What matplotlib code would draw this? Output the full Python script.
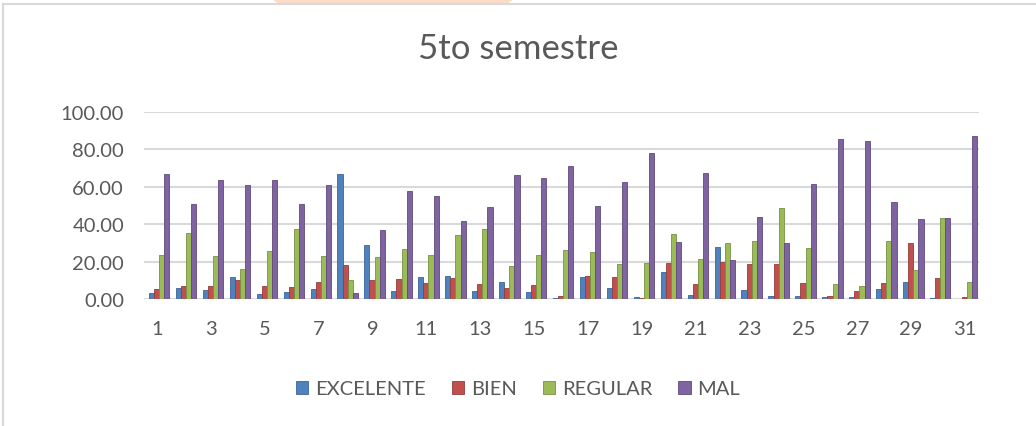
import numpy as np
import matplotlib
matplotlib.use("Agg")
import matplotlib.pyplot as plt
from matplotlib.patches import Rectangle, Polygon

categories = list(range(1, 32))
excelente = [3.2, 5.8, 5.0, 11.5, 2.7, 3.9, 5.1, 66.9, 28.8, 4.4,
             11.5, 12.4, 4.4, 9.2, 3.5, 0.4, 11.5, 5.8, 1.2, 14.3,
             2.1, 27.8, 4.8, 1.6, 1.6, 1.1, 1.1, 5.3, 8.9, 0.3, 0.2]
bien = [5.3, 6.7, 7.0, 10.1, 6.7, 6.2, 9.0, 18.0, 10.3, 10.6,
        8.8, 11.0, 7.8, 5.7, 7.4, 1.4, 12.2, 11.5, 0.4, 19.1,
        8.0, 19.8, 18.9, 18.8, 8.7, 1.8, 4.1, 8.3, 29.7, 11.4, 1.1]
regular = [23.5, 35.2, 23.2, 15.9, 25.7, 37.5, 23.2, 10.3, 22.7, 26.5,
           23.4, 34.2, 37.5, 17.7, 23.5, 26.2, 25.3, 18.8, 19.5, 35.0,
           21.4, 29.9, 31.0, 48.5, 27.1, 8.2, 7.1, 30.9, 15.3, 43.2, 9.1]
mal = [66.9, 51.0, 63.4, 61.0, 63.4, 51.0, 61.0, 3.4, 37.0, 57.5,
       55.2, 41.6, 49.2, 66.4, 64.6, 71.3, 49.9, 62.8, 77.9, 30.3,
       67.3, 21.1, 44.1, 29.9, 61.4, 85.8, 84.4, 52.0, 42.6, 43.2, 87.4]

series = [("EXCELENTE", excelente, "#4F81BD", "#3A6598"),
          ("BIEN", bien, "#C0504D", "#963C3A"),
          ("REGULAR", regular, "#9BBB59", "#769141"),
          ("MAL", mal, "#8064A2", "#5F4A7B")]

plt.rcParams['font.family'] = ['Lato', 'DejaVu Sans']
text_color = "#595959"

fig = plt.figure(figsize=(10.36, 4.27), dpi=100)

# faint background shapes at the very top and chart border
fig.patches.append(Polygon([[273/1036, 1], [513/1036, 1], [505/1036, 422/427], [280/1036, 422/427]],
                           closed=True, transform=fig.transFigure, color="#FADBC8", zorder=0))
fig.patches.append(Rectangle((3/1036, -0.01), 1.0, 422/427 + 0.01, transform=fig.transFigure,
                             fill=False, edgecolor="#D9D9D9", linewidth=1.5, zorder=1))

ax = fig.add_axes([143.5/1036, 127/427, 835/1036, 187/427])
x = np.arange(len(categories))
w = 0.19
for i, (name, vals, col, dark) in enumerate(series):
    off = (i - 1.5) * w + 0.08
    ax.bar(x + off, vals, width=w, color=col, edgecolor=dark, linewidth=0.6,
           label=name, zorder=3)

ax.set_xlim(-0.5, len(categories) - 0.5)
ax.set_ylim(0, 100)
ax.set_yticks(np.arange(0, 101, 20))
ax.set_yticklabels([f"{v:.2f}" for v in range(0, 101, 20)])
ax.set_xticks(x[::2])
ax.set_xticklabels([str(c) for c in categories[::2]])
ax.tick_params(length=0, labelsize=14.5, colors=text_color)
ax.tick_params(axis='y', pad=14)
ax.tick_params(axis='x', pad=15)
ax.grid(axis='y', color="#D9D9D9", linewidth=1.5, zorder=0)
for s in ax.spines.values():
    s.set_visible(False)

fig.text(0.5, 378/427, "5to semestre", ha='center', va='center', fontsize=25, color=text_color)

handles, labels = ax.get_legend_handles_labels()
fig.legend(handles, labels, loc='center', bbox_to_anchor=(0.5, 37/427), ncol=4, frameon=False,
           fontsize=14.5, handlelength=0.6, handleheight=0.6, handletextpad=0.35, columnspacing=1.3,
           labelcolor=text_color)

fig.savefig("out.png", dpi=100)
